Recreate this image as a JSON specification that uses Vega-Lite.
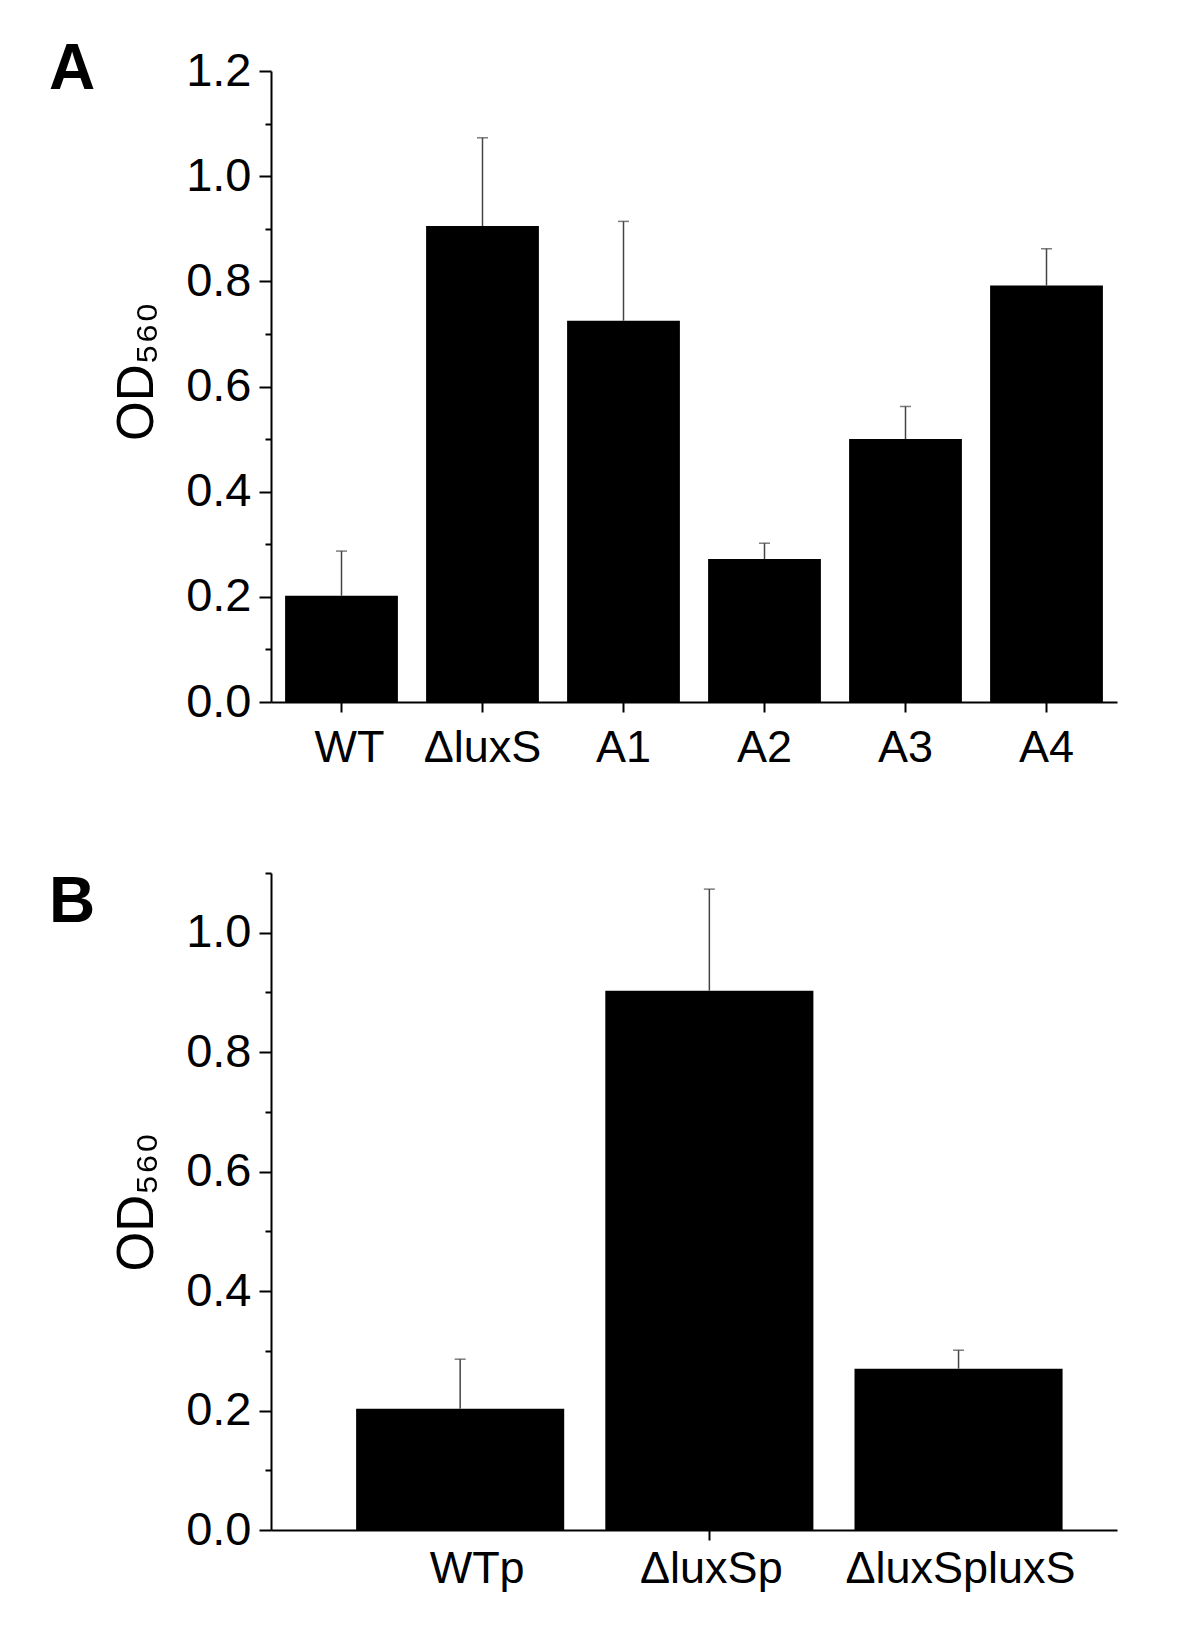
{
  "$schema": "https://vega.github.io/schema/vega-lite/v6.json",
  "background": "white",
  "padding": {"left": 49, "top": 38, "right": 10, "bottom": 10},
  "spacing": 101,
  "config": {
    "view": {"stroke": null},
    "font": "Liberation Sans",
    "axis": {
      "domainColor": "black",
      "domainWidth": 2,
      "tickColor": "black",
      "tickWidth": 2,
      "labelColor": "black",
      "titleColor": "black",
      "grid": false,
      "labelFont": "Liberation Sans",
      "titleFont": "Liberation Sans",
      "labelLimit": 500
    }
  },
  "vconcat": [
    {
      "width": 846,
      "height": 631,
      "title": {"text": "A", "anchor": "start", "frame": "group", "fontSize": 64, "fontWeight": "bold", "font": "Liberation Sans", "color": "black", "dx": -222, "dy": 55, "offset": 0},
      "data": {"values": [
        {"strain": "WT", "od": 0.202, "upper": 0.287},
        {"strain": "ΔluxS", "od": 0.905, "upper": 1.073},
        {"strain": "A1", "od": 0.725, "upper": 0.914},
        {"strain": "A2", "od": 0.272, "upper": 0.302},
        {"strain": "A3", "od": 0.500, "upper": 0.562},
        {"strain": "A4", "od": 0.792, "upper": 0.862}
      ]},
      "encoding": {
        "x": {"field": "strain", "type": "nominal", "sort": null,
          "scale": {"paddingInner": 0.2, "paddingOuter": 0.1},
          "axis": {"title": null, "labelAngle": 0, "labelFontSize": 45, "tickSize": 10, "labelPadding": 13,
            "labelOffset": {"condition": {"test": "datum.value === 'WT'", "value": 8}, "value": 0}}}
      },
      "layer": [
        {"mark": {"type": "bar", "color": "black"},
         "encoding": {"y": {"field": "od", "type": "quantitative",
           "scale": {"domain": [0, 1.2], "nice": false},
           "axis": {"title": "OD₅₆₀", "titleFontSize": 51, "titleFontWeight": "normal", "titlePadding": 22, "titleY": 300,
             "values": [0, 0.1, 0.2, 0.3, 0.4, 0.5, 0.6, 0.7, 0.8, 0.9, 1.0, 1.1, 1.2],
             "labelExpr": "round(datum.value*10)%2===0 ? format(datum.value, '.1f') : ''",
             "labelFontSize": 47, "labelPadding": 8,
             "tickSize": {"condition": {"test": "round(datum.value*10)%2===1", "value": 6}, "value": 12}}}}},
        {"mark": {"type": "rule", "color": "#444444", "strokeWidth": 1.5},
         "encoding": {"y": {"field": "od", "type": "quantitative"}, "y2": {"field": "upper"}}},
        {"mark": {"type": "tick", "color": "#444444", "thickness": 1.5, "size": 11},
         "encoding": {"y": {"field": "upper", "type": "quantitative"}}}
      ]
    },
    {
      "width": 846,
      "height": 657,
      "title": {"text": "B", "anchor": "start", "frame": "group", "fontSize": 64, "fontWeight": "bold", "font": "Liberation Sans", "color": "black", "dx": -222, "dy": 63, "offset": 0},
      "data": {"values": [
        {"strain": "WTp", "od": 0.203, "upper": 0.286},
        {"strain": "ΔluxSp", "od": 0.903, "upper": 1.073},
        {"strain": "ΔluxSpluxS", "od": 0.270, "upper": 0.301}
      ]},
      "encoding": {
        "x": {"field": "strain", "type": "nominal", "sort": null,
          "scale": {"paddingInner": 0.165, "paddingOuter": 0.28, "align": 0.61},
          "axis": {"title": null, "labelAngle": 0, "labelFontSize": 45, "tickSize": 10, "labelPadding": 6,
            "labelOffset": {"condition": {"test": "datum.value === 'WTp'", "value": 17}, "value": 2},
            "tickColor": {"condition": {"test": "datum.value === 'ΔluxSp'", "value": "black"}, "value": "transparent"}}}
      },
      "layer": [
        {"mark": {"type": "bar", "color": "black"},
         "encoding": {"y": {"field": "od", "type": "quantitative",
           "scale": {"domain": [0, 1.1], "nice": false},
           "axis": {"title": "OD₅₆₀", "titleFontSize": 51, "titleFontWeight": "normal", "titlePadding": 22,
             "values": [0, 0.1, 0.2, 0.3, 0.4, 0.5, 0.6, 0.7, 0.8, 0.9, 1.0, 1.1],
             "labelExpr": "round(datum.value*10)%2===0 ? format(datum.value, '.1f') : ''",
             "labelFontSize": 47, "labelPadding": 8,
             "tickSize": {"condition": {"test": "round(datum.value*10)%2===1", "value": 6}, "value": 12}}}}},
        {"mark": {"type": "rule", "color": "#444444", "strokeWidth": 1.5},
         "encoding": {"y": {"field": "od", "type": "quantitative"}, "y2": {"field": "upper"}}},
        {"mark": {"type": "tick", "color": "#444444", "thickness": 1.5, "size": 11},
         "encoding": {"y": {"field": "upper", "type": "quantitative"}}}
      ]
    }
  ]
}
